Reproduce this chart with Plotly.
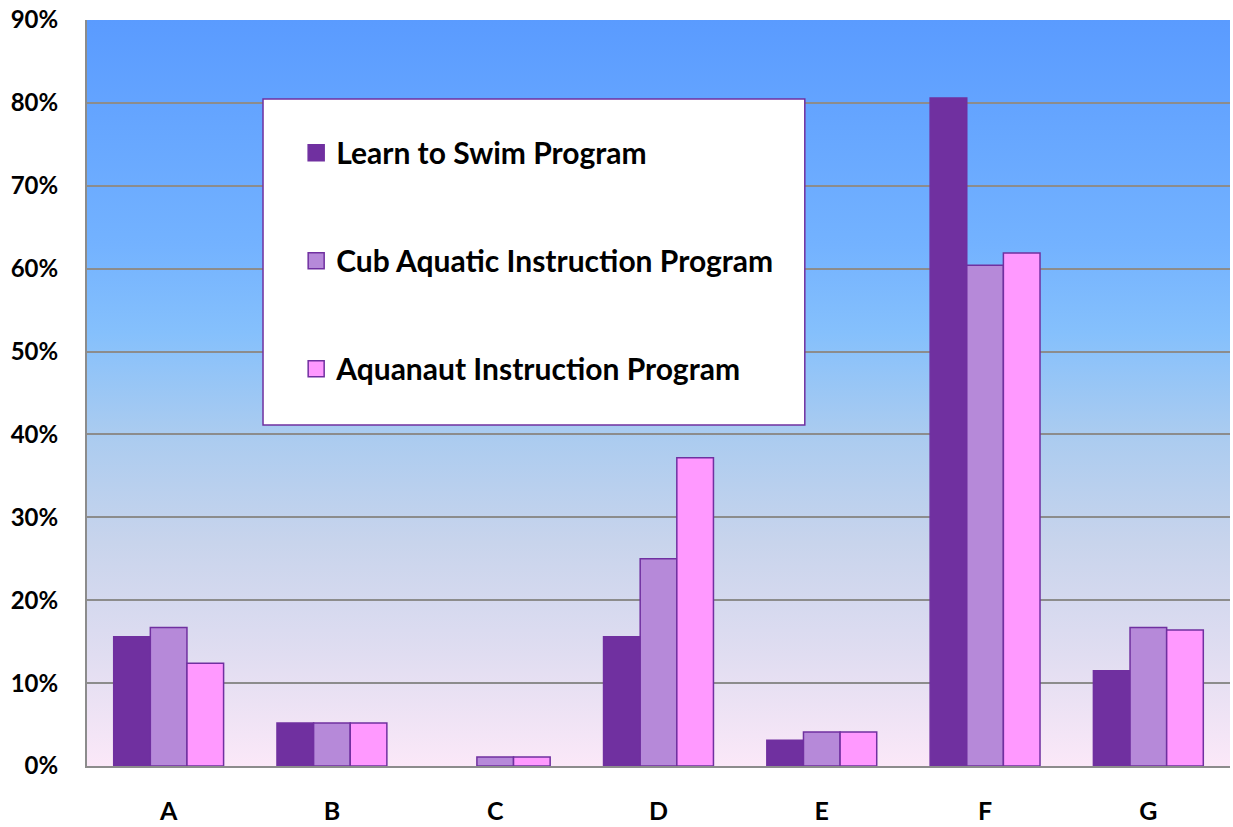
"""
Swim program participation by category - grouped bar chart.
"""

import base64
import plotly.graph_objects as go

# data
categories = ["A", "B", "C", "D", "E", "F", "G"]
series_names = [
    "Learn to Swim Program",
    "Cub Aquatic Instruction Program",
    "Aquanaut Instruction Program",
]
learn_to_swim = [15.6, 5.2, 0.0, 15.6, 3.1, 80.6, 11.5]
cub_aquatic = [16.7, 5.2, 1.1, 25.0, 4.1, 60.4, 16.7]
aquanaut = [12.4, 5.2, 1.1, 37.2, 4.1, 61.9, 16.4]
y_ticks = [0, 10, 20, 30, 40, 50, 60, 70, 80, 90]
y_tick_labels = [f"{v}%" for v in y_ticks]

series_values = [learn_to_swim, cub_aquatic, aquanaut]
bar_colors = ["#7030A0", "#B689D9", "#FF99FF"]
outline = "#7030A0"
FONT = "Lato, 'Open Sans', sans-serif"


def gradient_uri():
    """Vertical blue -> pale pink gradient as an svg data uri."""
    stops = [
        (0.00, "#5A9BFF"),
        (0.30, "#73B2FF"),
        (0.42, "#85C0FC"),
        (0.55, "#A9CBF0"),
        (0.70, "#C8D4EC"),
        (0.85, "#E0DDF1"),
        (1.00, "#FBE8F8"),
    ]
    stop_tags = "".join(
        f'<stop offset="{o}" stop-color="{c}"/>' for o, c in stops
    )
    svg = (
        '<svg xmlns="http://www.w3.org/2000/svg" width="100" height="100" '
        'viewBox="0 0 100 100" preserveAspectRatio="none">'
        '<defs><linearGradient id="g" x1="0" y1="0" x2="0" y2="1">'
        f"{stop_tags}</linearGradient></defs>"
        '<rect width="100" height="100" fill="url(#g)"/></svg>'
    )
    return "data:image/svg+xml;base64," + base64.b64encode(svg.encode()).decode()


fig = go.Figure()

for name, vals, color in zip(series_names, series_values, bar_colors):
    # zero-height bars get no outline so they stay invisible
    widths = [1.5 if v > 0 else 0 for v in vals]
    fig.add_trace(go.Bar(
        x=categories,
        y=vals,
        name=name,
        marker=dict(color=color, line=dict(color=outline, width=widths)),
        showlegend=False,
    ))
    # legend-only marker so the swatch can be bigger than the bar icon
    fig.add_trace(go.Scatter(
        x=[None],
        y=[None],
        mode="markers",
        name=name,
        legendgroup=name,
        marker=dict(symbol="square", size=18, color=color,
                    line=dict(color=outline, width=1.5)),
    ))

# white legend box
fig.add_shape(
    type="rect", xref="paper", yref="paper",
    x0=0.154, x1=0.628, y0=0.457, y1=0.894,
    fillcolor="white", line=dict(color=outline, width=1.5),
    layer="above",
)

fig.add_layout_image(
    source=gradient_uri(),
    xref="paper", yref="paper",
    x=0, y=1, sizex=1, sizey=1,
    xanchor="left", yanchor="top",
    sizing="stretch", layer="below",
)

fig.update_layout(
    width=1233,
    height=827,
    margin=dict(l=87, r=3, t=20, b=61),
    paper_bgcolor="white",
    plot_bgcolor="rgba(0,0,0,0)",
    barmode="group",
    bargap=0.327,
    bargroupgap=0,
    font=dict(family=FONT, size=23, color="black", weight="bold"),
    legend=dict(
        x=0.183, y=0.857, xanchor="left", yanchor="top",
        bgcolor="rgba(0,0,0,0)", borderwidth=0,
        traceorder="grouped", tracegroupgap=66,
        itemsizing="trace",
        font=dict(family=FONT, size=30, color="black", weight="bold"),
    ),
)

fig.update_xaxes(
    automargin=False,
    showgrid=False,
    showline=True, linecolor="#8C8C8C", linewidth=2,
    ticks="", ticklabelstandoff=22,
    tickfont=dict(family=FONT, size=25, weight="bold"),
)
fig.update_yaxes(
    automargin=False,
    range=[0, 90],
    tickvals=y_ticks,
    ticktext=y_tick_labels,
    showgrid=True, gridcolor="#8C8C8C", gridwidth=2,
    showline=True, linecolor="#8C8C8C", linewidth=2,
    zeroline=False,
    ticks="", ticklabelstandoff=22,
    tickfont=dict(family=FONT, size=24, weight="bold"),
)

# drop the default body margin so the figure sits at the page corner
fig.write_html(
    "out.html",
    config={"displayModeBar": False},
    post_script="document.body.style.margin = '0';",
)
